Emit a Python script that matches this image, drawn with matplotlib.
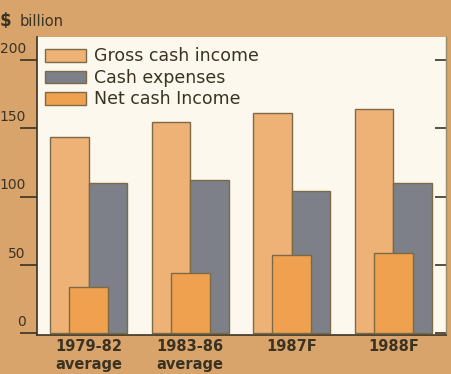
import matplotlib.pyplot as plt
import matplotlib.transforms as mtransforms
import numpy as np

periods = ["1979-82\naverage", "1983-86\naverage", "1987F", "1988F"]
gross_cash_income = [144, 155, 161, 164]
cash_expenses = [110, 112, 104, 110]
net_cash_income = [34, 44, 57, 59]
y_ticks = [0, 50, 100, 150, 200]

bg = "#d9a46c"
panel = "#fdf8ee"
gross_col = "#efb276"
exp_col = "#7d8089"
net_col = "#f0a14f"
edge = "#7a6a45"
ink = "#3b3322"

fig = plt.figure(figsize=(4.51, 3.74), dpi=100, facecolor=bg)
ax = fig.add_axes([0.082, 0.104, 0.907, 0.797], facecolor=panel)

x = np.arange(len(periods))
w = 0.38
ax.bar(x - w / 2, gross_cash_income, w, color=gross_col, edgecolor=edge,
       linewidth=1.0, label="Gross cash income", zorder=2)
ax.bar(x + w / 2, cash_expenses, w, color=exp_col, edgecolor=edge,
       linewidth=1.0, label="Cash expenses", zorder=2)
ax.bar(x, net_cash_income, w, color=net_col, edgecolor=edge,
       linewidth=1.0, label="Net cash Income", zorder=3)

ax.set_xlim(-0.51, 3.52)
ax.set_ylim(-1.5, 217)
ax.set_xticks(x)
ax.set_xticklabels(periods, fontsize=10.5, color=ink, linespacing=1.25,
                   family="Liberation Sans Narrow", fontweight="bold")
ax.tick_params(axis="x", length=0, pad=3)

ax.set_yticks(y_ticks)
ax.set_yticklabels([str(v) for v in y_ticks], fontsize=10, color=ink)
ax.tick_params(axis="y", which="both", length=12, width=1.2, color=ink, pad=-4)
ax.tick_params(axis="y", left=True, direction="out")
ax.tick_params(axis="y", right=True, labelright=False)
for tick in ax.yaxis.get_major_ticks():
    tick.tick2line.set_marker(0)  # right-side ticks point inward
    tick.tick2line.set_markersize(8)
    tick.tick2line.set_color("#8a7a55")
# y labels sit just above their tick lines
lift = mtransforms.ScaledTranslation(0, 3 / 72, fig.dpi_scale_trans)
for lbl in ax.get_yticklabels():
    lbl.set_verticalalignment("bottom")
    lbl.set_transform(lbl.get_transform() + lift)

ax.spines["top"].set_visible(False)
ax.spines["left"].set_color(ink)
ax.spines["left"].set_linewidth(1.2)
ax.spines["bottom"].set_color(ink)
ax.spines["bottom"].set_linewidth(1.2)
ax.spines["right"].set_color("#9a8a6a")
ax.spines["right"].set_linewidth(1.0)

leg = ax.legend(loc="upper left", bbox_to_anchor=(-0.005, 1.0), frameon=False,
                prop={"size": 12.5}, handlelength=2.35, handleheight=0.75,
                handletextpad=0.45, labelspacing=0.2, borderaxespad=0.2)
for t in leg.get_texts():
    t.set_color(ink)

fig.text(0.0, 0.945, "$", fontsize=12, color=ink, fontweight="bold",
         ha="left", va="center")
fig.text(0.044, 0.943, "billion", fontsize=10.5, color=ink,
         ha="left", va="center")

fig.savefig("out.png", dpi=100, facecolor=bg)
